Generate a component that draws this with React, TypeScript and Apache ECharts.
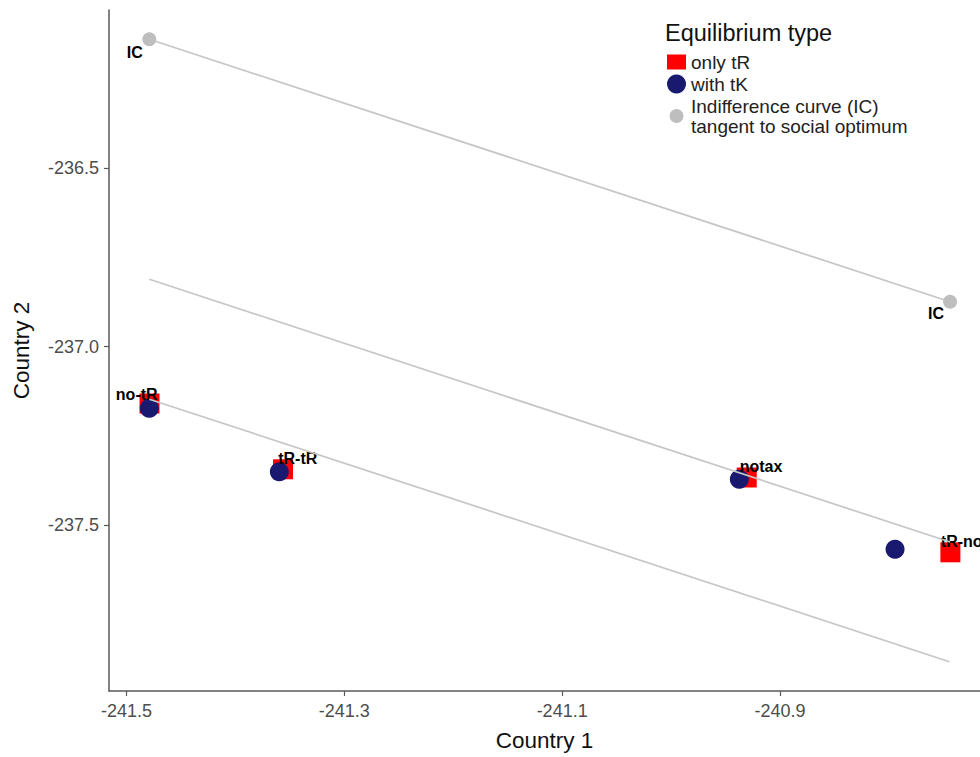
import React, { useEffect, useRef } from "react";
import * as echarts from "echarts";

// ---- data ----
const onlyTRNames = ["no-tR", "tR-tR", "notax", "tR-no"];
const onlyTRX = [-241.4789, -241.3563, -240.9305, -240.7435];
const onlyTRY = [-237.1593, -237.3438, -237.3668, -237.5766];

const withTKX = [-241.4791, -241.3597, -240.9373, -240.7943];
const withTKY = [-237.1727, -237.3505, -237.3718, -237.5681];

const icNames = ["IC", "IC"];
const icX = [-241.4791, -240.7438];
const icY = [-236.138, -236.8738];

// indifference curves (straight segments)
const curveTopX = [-241.4791, -240.7438];
const curveTopY = [-236.138, -236.8738];
const curveMidX = [-241.4791, -240.7438];
const curveMidY = [-236.811, -237.5477];
const curveLowX = [-241.4791, -240.7444];
const curveLowY = [-237.1472, -237.8833];

const xTicks = [-241.5, -241.3, -241.1, -240.9];
const yTicks = [-237.5, -237.0, -236.5];

// label nudges (pixels) for the text labels
const onlyTRLabelNudge = [
  [-12.8, -9.5],
  [14.7, -11],
  [14.3, -11.5],
  [11.3, -10.6],
];
const icLabelNudge = [
  [-14.6, 13.4],
  [-14, 11.6],
];

const FONT = '"Liberation Sans", Arial, Helvetica, sans-serif';
const ONLY_TR = "only tR";
const WITH_TK = "with tK";
const IC_NAME = "Indifference curve (IC)\ntangent to social optimum";

const zip = (xs: number[], ys: number[]) => xs.map((x, i) => [x, ys[i]]);

export default function App() {
  const ref = useRef<HTMLDivElement>(null);
  useEffect(() => {
    if (!ref.current) return;
    const chart = echarts.init(ref.current, null, { renderer: "svg" });
    const labelStyle = {
      show: true,
      position: "inside",
      fontFamily: FONT,
      fontSize: 16,
      fontWeight: "bold",
      color: "#000",
    };
    const lineSeries = (xs: number[], ys: number[]) => ({
      type: "line",
      data: zip(xs, ys),
      showSymbol: false,
      symbol: "none",
      silent: true,
      z: 3,
      lineStyle: { color: "#C6C6C6", width: 1.7 },
      itemStyle: { color: "#C6C6C6" },
    });
    const option = {
      animation: false,
      backgroundColor: "#fff",
      textStyle: { fontFamily: FONT },
      title: {
        text: "Equilibrium type",
        left: 665,
        top: 21,
        padding: 0,
        textStyle: { fontFamily: FONT, fontSize: 23.5, fontWeight: "normal", color: "#111" },
      },
      legend: {
        orient: "vertical",
        left: 667,
        top: 52,
        padding: 0,
        itemGap: 2,
        itemWidth: 19,
        itemHeight: 20,
        selectedMode: false,
        textStyle: { fontFamily: FONT, fontSize: 19, color: "#222", lineHeight: 20 },
        data: [
          { name: ONLY_TR, icon: "path://M0,0M19,20M0,2.5h19v15h-19z" },
          { name: WITH_TK, icon: "circle" },
          {
            name: IC_NAME,
            icon: "path://M0,0M19,20M2.5,10a7,7 0 1,0 14,0a7,7 0 1,0 -14,0z",
          },
        ],
      },
      grid: { left: 109, right: 0, top: 10, bottom: 66, containLabel: false },
      xAxis: {
        type: "value",
        min: -241.5161,
        max: -240.7163,
        name: "Country 1",
        nameLocation: "middle",
        nameGap: 38,
        nameTextStyle: { fontFamily: FONT, fontSize: 22.5, color: "#111" },
        axisLine: { show: true, lineStyle: { color: "#5a5a5a", width: 1.5 } },
        axisTick: { show: true, length: 5, customValues: xTicks, lineStyle: { color: "#5a5a5a", width: 1.2 } },
        axisLabel: {
          customValues: xTicks,
          margin: 11,
          fontFamily: FONT,
          fontSize: 18,
          color: "#4D4D4D",
          formatter: (v: number) => v.toFixed(1),
        },
        splitLine: { show: false },
      },
      yAxis: {
        type: "value",
        min: -237.9655,
        max: -236.0558,
        name: "Country 2",
        nameLocation: "middle",
        nameGap: 76,
        nameRotate: 90,
        nameTextStyle: { fontFamily: FONT, fontSize: 22.5, color: "#111" },
        axisLine: { show: true, lineStyle: { color: "#5a5a5a", width: 1.5 } },
        axisTick: { show: true, length: 5, customValues: yTicks, lineStyle: { color: "#5a5a5a", width: 1.2 } },
        axisLabel: {
          customValues: yTicks,
          margin: 10,
          fontFamily: FONT,
          fontSize: 18,
          color: "#4D4D4D",
          formatter: (v: number) => v.toFixed(1),
        },
        splitLine: { show: false },
      },
      series: [
        {
          name: ONLY_TR,
          type: "scatter",
          symbol: "rect",
          symbolSize: 20,
          z: 2,
          itemStyle: { color: "#FF0000", opacity: 1 },
          data: onlyTRX.map((x, i) => ({
            value: [x, onlyTRY[i]],
            name: onlyTRNames[i],
            label: { ...labelStyle, formatter: onlyTRNames[i], offset: onlyTRLabelNudge[i] },
          })),
        },
        {
          name: WITH_TK,
          type: "scatter",
          symbol: "circle",
          symbolSize: 19,
          z: 2,
          itemStyle: { color: "#191970", opacity: 1 },
          data: zip(withTKX, withTKY),
        },
        lineSeries(curveTopX, curveTopY),
        lineSeries(curveMidX, curveMidY),
        lineSeries(curveLowX, curveLowY),
        {
          name: IC_NAME,
          type: "scatter",
          symbol: "circle",
          symbolSize: 14,
          z: 4,
          itemStyle: { color: "#BEBEBE", opacity: 1 },
          data: icX.map((x, i) => ({
            value: [x, icY[i]],
            name: icNames[i],
            label: { ...labelStyle, formatter: icNames[i], offset: icLabelNudge[i] },
          })),
        },
      ],
    };
    chart.setOption(option as any);
    return () => chart.dispose();
  }, []);
  return (
    <div
      ref={ref}
      style={{ position: "absolute", left: 0, top: 0, width: 980, height: 757 }}
    />
  );
}
